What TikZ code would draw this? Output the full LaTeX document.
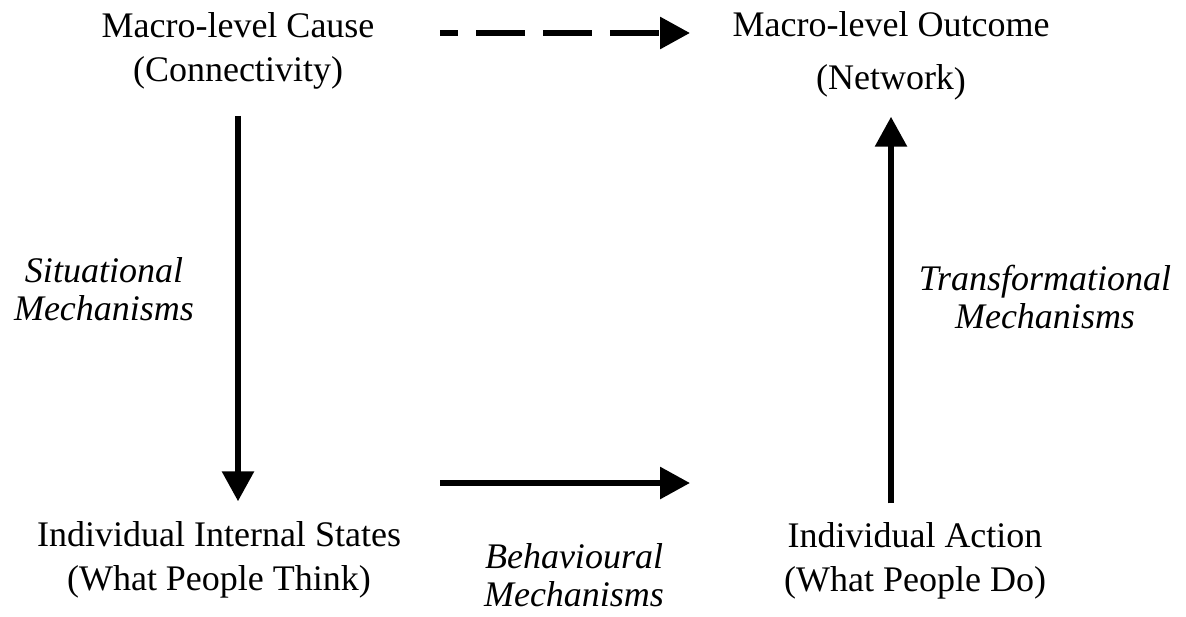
\documentclass[tikz,border=0pt]{standalone}
\usepackage{fontspec}
\setmainfont{Liberation Serif}
\usetikzlibrary{arrows.meta}
\tikzset{
	level/.style={align=center, inner sep=0pt, font=\fontsize{18pt}{22pt}\selectfont},
	mech/.style={align=center, inner sep=0pt, font=\fontsize{18pt}{19pt}\selectfont\itshape},
	flow/.style={line width=3pt, -{Triangle[length=15pt,width=15.5pt]}}
}

\begin{document}
\begin{tikzpicture}[x=0.5pt, y=-0.5pt]
			%%%%% START %%%%%
			\useasboundingbox (0,0) rectangle (1186,616);
			
			\node[level] (cause) at (238,51) {Macro-level Cause\\(Connectivity)};
			\node[level] (outcome) at (891,56) {Macro-level Outcome\\[4.5pt](Network\raisebox{-1.5pt}{)}};
			\node[level] (states) at (219,560) {Individual Internal States\\(What People Think)};
			\node[level] (action) at (915,561) {Individual Action\\(What People Do)};
			
			\node[mech] (situational) at (104,289) {Situational\\Mechanisms};
			\node[mech] (transformational) at (1045,297) {Transformational\\Mechanisms};
			\node[mech] (behavioural) at (574,575) {Behavioural\\Mechanisms};
			
			\coordinate (d-start) at (440,33);
			\coordinate (d-end) at (690,33);
			\coordinate (b-start) at (440,483);
			\coordinate (b-end) at (690,483);
			
			\draw[flow, dash pattern=on 24.5pt off 9pt, dash phase=15.5pt] (d-start) -- (d-end);
			\draw[flow, shorten <=13pt, shorten >=10pt] (cause.south) -- (cause.south |- states.north);
			\draw[flow] (b-start) -- (b-end);
			\draw[flow, shorten <=9.5pt, shorten >=8pt] (outcome.south |- action.north) -- (outcome.south);
			
			%%%%% END %%%%%
\end{tikzpicture}
\end{document}
